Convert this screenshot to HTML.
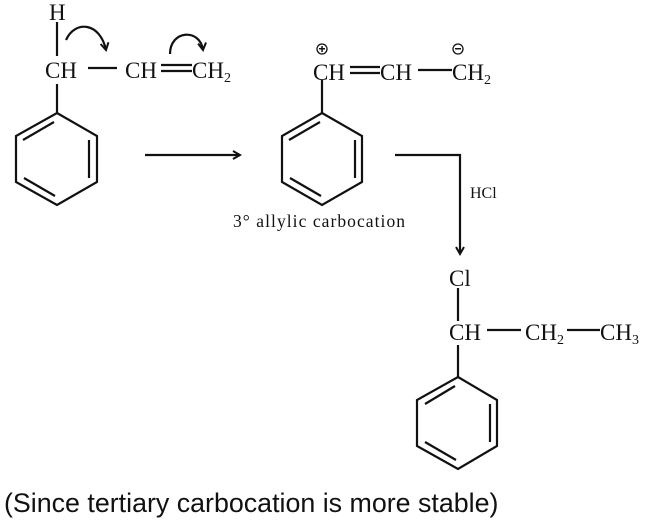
<!DOCTYPE html>
<html><head><style>
html,body{margin:0;padding:0;background:#fff;}
svg{display:block;}
text{font-family:"Liberation Serif",serif;fill:#111;}
</style></head><body>
<svg width="645" height="524" viewBox="0 0 645 524" xmlns="http://www.w3.org/2000/svg">
<defs>
<marker id="ah" markerWidth="10" markerHeight="10" refX="8" refY="5" orient="auto" markerUnits="userSpaceOnUse">
<path d="M1,1 L8,5 L1,9" fill="none" stroke="#111" stroke-width="2"/>
</marker>
</defs>
<g stroke="#111" stroke-width="2.2" fill="none">
<line x1="57" y1="22" x2="57" y2="56"/>
<line x1="88" y1="68" x2="117" y2="68"/>
<line x1="161" y1="65" x2="192" y2="65"/>
<line x1="161" y1="71" x2="192" y2="71"/>
<line x1="57" y1="84" x2="57" y2="113"/>
<path d="M57,113 L97,136 L97,182 L57,205 L16,182 L16,136 Z"/>
<line x1="23" y1="140" x2="54" y2="122"/>
<line x1="89" y1="140" x2="89" y2="178"/>
<line x1="24" y1="178" x2="55" y2="196"/>
<path d="M66,40 C75,20 100,22 106,50" marker-end="url(#ah)"/>
<path d="M170,54 C170,30 200,28 203,50" marker-end="url(#ah)"/>
<line x1="145" y1="155" x2="240" y2="155" marker-end="url(#ah)"/>
<line x1="322" y1="80" x2="322" y2="113"/>
<line x1="350" y1="67" x2="380" y2="67"/>
<line x1="350" y1="73" x2="380" y2="73"/>
<path d="M322,113 L362,136 L362,182 L322,205 L282,182 L282,136 Z"/>
<line x1="289" y1="140" x2="320" y2="122"/>
<line x1="355" y1="140" x2="355" y2="178"/>
<line x1="290" y1="178" x2="321" y2="196"/>
<line x1="418" y1="70" x2="452" y2="70"/>
<circle cx="322" cy="49" r="5" stroke-width="1.3"/>
<circle cx="458" cy="49" r="5" stroke-width="1.3"/>
<polyline points="395,155 460,155 460,254" marker-end="url(#ah)"/>
<line x1="458" y1="288" x2="458" y2="321"/>
<line x1="487" y1="330" x2="521" y2="330"/>
<line x1="567" y1="330" x2="600" y2="330"/>
<line x1="458" y1="345" x2="458" y2="377"/>
<path d="M458,377 L497,400 L497,446 L458,469 L417,446 L417,400 Z"/>
<line x1="425" y1="404" x2="455" y2="386"/>
<line x1="490" y1="404" x2="490" y2="442"/>
<line x1="425" y1="442" x2="456" y2="460"/>
</g>
<g fill="#111">
<rect x="319" y="48" width="6" height="1.5"/><rect x="321.3" y="46" width="1.5" height="6"/>
<rect x="455" y="48" width="6" height="1.5"/>
</g>
<g font-size="23">
<text x="49" y="20">H</text>
<text x="45" y="78">CH</text>
<text x="125" y="78">CH</text>
<text x="192" y="78">CH<tspan font-size="14" dy="4">2</tspan></text>
<text x="313" y="80">CH</text>
<text x="380" y="80">CH</text>
<text x="452" y="80">CH<tspan font-size="14" dy="4">2</tspan></text>
<text x="449" y="286">Cl</text>
<text x="449" y="340">CH</text>
<text x="525" y="340">CH<tspan font-size="14" dy="4">2</tspan></text>
<text x="600" y="340">CH<tspan font-size="14" dy="4">3</tspan></text>
</g>
<text x="470" y="198" font-size="16">HCl</text>
<text x="233" y="227" font-size="17.5" textLength="172" lengthAdjust="spacing">3° allylic carbocation</text>
<text x="4" y="512" font-size="26.8" style="font-family:'Liberation Sans',sans-serif">(Since tertiary carbocation is more stable)</text>
</svg>
</body></html>
